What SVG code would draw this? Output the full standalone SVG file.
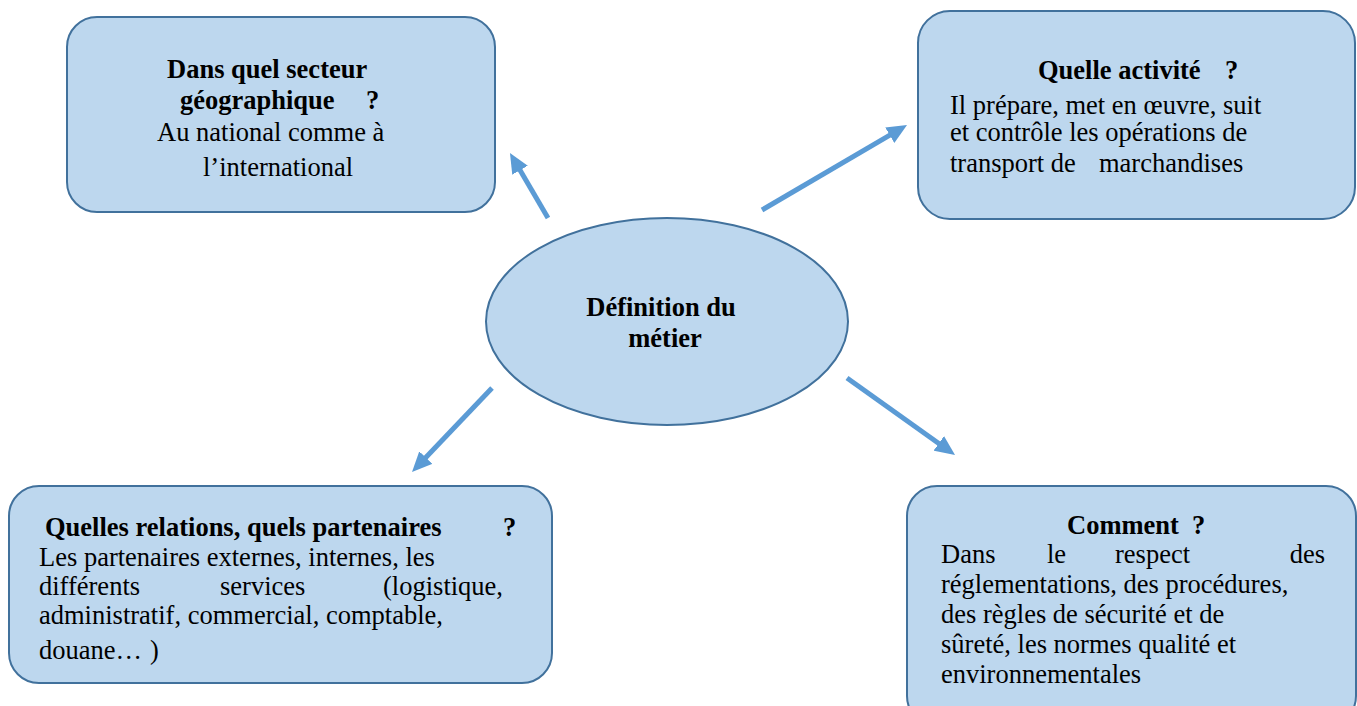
<svg xmlns="http://www.w3.org/2000/svg" width="1357" height="706" viewBox="0 0 1357 706">
<style>
.box{fill:#BDD7EE;stroke:#41719C;stroke-width:2}
.t{font-family:"Liberation Serif","Times New Roman",serif;font-size:26.5px;fill:#000}
.b{font-weight:bold}
.arr{stroke:#5B9BD5;stroke-width:5;fill:none;marker-end:url(#ah)}
</style>
<defs>
<marker id="ah" viewBox="0 0 20 18" refX="10" refY="9" markerWidth="20" markerHeight="18" markerUnits="userSpaceOnUse" orient="auto">
<path d="M0,0 L20,9 L0,18 z" fill="#5B9BD5"/>
</marker>
</defs>
<rect width="1357" height="706" fill="#fff"/>
<g id="connectors">
<line class="arr" x1="548" y1="218" x2="515" y2="161.6"/>
<line class="arr" x1="762" y1="210" x2="898.4" y2="130.1"/>
<line class="arr" x1="492" y1="388" x2="418.9" y2="464.8"/>
<line class="arr" x1="847" y1="378" x2="946.9" y2="449.2"/>
</g>
<g id="center">
<ellipse class="box" cx="667" cy="321.5" rx="181" ry="103.5"/>
<text class="t b" x="661" y="316" text-anchor="middle">Définition du</text>
<text class="t b" x="665" y="347" text-anchor="middle">métier</text>
</g>
<g id="secteur">
<rect class="box" x="67" y="17" width="428" height="195" rx="30"/>
<text class="t b" x="167" y="78">Dans quel secteur</text>
<text class="t b" x="180" y="109">géographique</text>
<text class="t b" x="366" y="109">?</text>
<text class="t" x="157" y="141">Au national comme à</text>
<text class="t" x="203" y="176">l’international</text>
</g>
<g id="activite">
<rect class="box" x="918" y="11" width="437" height="208" rx="32"/>
<text class="t b" x="1038" y="79">Quelle activité</text>
<text class="t b" x="1225" y="79">?</text>
<text class="t" x="950" y="114">Il prépare, met en œuvre, suit</text>
<text class="t" x="950" y="141">et contrôle les opérations de</text>
<text class="t" x="950" y="172">transport de</text>
<text class="t" x="1099" y="172">marchandises</text>
</g>
<g id="relations">
<rect class="box" x="9" y="486" width="543" height="197" rx="30"/>
<text class="t b" x="45" y="536">Quelles relations, quels partenaires</text>
<text class="t b" x="503" y="536">?</text>
<text class="t" x="39" y="566">Les partenaires externes, internes, les</text>
<text class="t" x="39" y="595">différents</text>
<text class="t" x="220" y="595">services</text>
<text class="t" x="503" y="595" text-anchor="end">(logistique,</text>
<text class="t" x="39" y="624">administratif, commercial, comptable,</text>
<text class="t" x="39" y="659">douane…</text>
<text class="t" x="150" y="659">)</text>
</g>
<g id="comment">
<rect class="box" x="907" y="486" width="449" height="240" rx="30"/>
<text class="t b" x="1067" y="534">Comment</text>
<text class="t b" x="1192" y="534">?</text>
<text class="t" x="941" y="563">Dans</text>
<text class="t" x="1047" y="563">le</text>
<text class="t" x="1115" y="563">respect</text>
<text class="t" x="1325" y="563" text-anchor="end">des</text>
<text class="t" x="941" y="593">réglementations, des procédures,</text>
<text class="t" x="941" y="623">des règles de sécurité et de</text>
<text class="t" x="941" y="653">sûreté, les normes qualité et</text>
<text class="t" x="941" y="683">environnementales</text>
</g>
</svg>
